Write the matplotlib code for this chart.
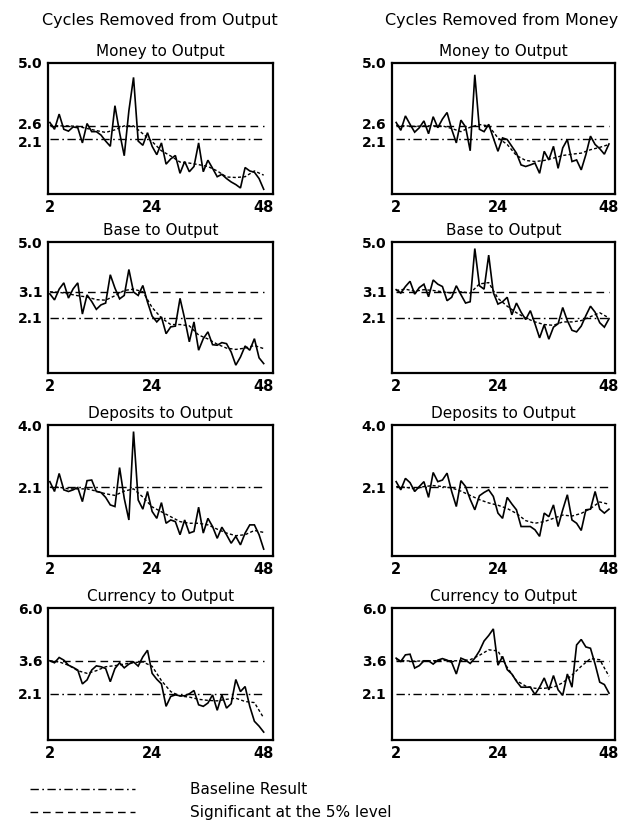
import numpy as np
import matplotlib
matplotlib.use("Agg")
import matplotlib.pyplot as plt
from matplotlib.lines import Line2D
from matplotlib.transforms import ScaledTranslation

# lag lengths on the x axis
lags = np.arange(2, 49)
lags_smooth = np.arange(2, 49, 2)

# --- cycles removed from output ---
out_money = [2.73, 2.47, 3.05, 2.47, 2.40, 2.56, 2.53, 1.95, 2.69, 2.38, 2.38, 2.25, 2.02, 1.82,
             3.37, 2.34, 1.46, 3.18, 4.45, 2.02, 1.86, 2.34, 1.82, 1.50, 1.95, 1.14, 1.34, 1.47,
             0.79, 1.24, 0.85, 1.05, 1.95, 0.85, 1.29, 0.98, 0.66, 0.75, 0.59, 0.46, 0.36, 0.23,
             1.01, 0.88, 0.83, 0.59, 0.18]
out_money_sm = [2.62, 2.60, 2.60, 2.58, 2.50, 2.42, 2.35, 2.45, 2.60, 2.60, 2.30, 2.00,
                1.65, 1.45, 1.22, 1.18, 1.12, 1.05, 0.88, 0.65, 0.63, 0.66, 0.88, 0.72]

out_base = [3.02, 2.79, 3.20, 3.44, 2.86, 3.21, 3.44, 2.25, 2.98, 2.73, 2.43, 2.60, 2.67, 3.75,
            3.24, 2.83, 2.96, 3.95, 3.09, 2.96, 3.34, 2.71, 2.17, 1.95, 2.14, 1.50, 1.76, 1.79,
            2.85, 2.07, 1.19, 1.95, 0.87, 1.31, 1.57, 1.08, 1.06, 1.16, 1.12, 0.80, 0.30, 0.61,
            1.03, 0.87, 1.31, 0.58, 0.36]
out_base_sm = [3.10, 3.08, 3.02, 2.95, 2.90, 2.80, 2.78, 2.95, 3.15, 3.20, 3.10, 2.50,
               2.10, 1.85, 1.85, 1.80, 1.45, 1.30, 1.10, 0.95, 0.90, 0.95, 1.05, 0.93]

out_dep = [2.27, 1.97, 2.52, 2.02, 1.97, 2.02, 2.09, 1.66, 2.30, 2.32, 1.97, 1.94, 1.79, 1.56,
           1.51, 2.70, 1.76, 1.10, 3.80, 1.71, 1.43, 1.97, 1.36, 1.15, 1.63, 1.00, 1.10, 1.05,
           0.65, 1.10, 0.70, 0.75, 1.49, 0.70, 1.15, 0.90, 0.54, 0.88, 0.65, 0.39, 0.60, 0.34,
           0.70, 0.95, 0.95, 0.65, 0.21]
out_dep_sm = [2.10, 2.10, 2.05, 2.05, 2.05, 1.98, 1.90, 1.85, 1.98, 2.05, 1.80, 1.50,
              1.35, 1.20, 1.05, 1.00, 1.00, 0.95, 0.82, 0.70, 0.62, 0.65, 0.78, 0.72]

out_cur = [3.60, 3.51, 3.75, 3.63, 3.40, 3.30, 3.18, 2.55, 2.73, 3.18, 3.37, 3.33, 3.25, 2.65,
           3.25, 3.51, 3.28, 3.45, 3.55, 3.36, 3.78, 4.08, 3.03, 2.76, 2.55, 1.53, 1.98, 2.05,
           2.01, 2.01, 2.10, 2.25, 1.60, 1.53, 1.68, 2.05, 1.35, 2.05, 1.45, 1.65, 2.75, 2.20,
           2.43, 1.53, 0.85, 0.63, 0.36]
out_cur_sm = [3.60, 3.55, 3.40, 3.15, 3.03, 3.15, 3.33, 3.38, 3.45, 3.52, 3.55, 3.35,
              2.70, 2.20, 2.00, 1.95, 1.85, 1.80, 1.78, 1.85, 1.90, 1.75, 1.70, 1.00]

# --- cycles removed from money ---
mon_money = [2.73, 2.43, 2.98, 2.66, 2.36, 2.53, 2.79, 2.30, 2.95, 2.53, 2.86, 3.11, 2.47, 1.95,
             2.82, 2.56, 1.65, 4.55, 2.47, 2.38, 2.66, 2.14, 1.63, 2.14, 2.08, 1.82, 1.56, 1.11,
             1.05, 1.11, 1.18, 0.79, 1.63, 1.30, 1.82, 0.98, 1.76, 2.08, 1.24, 1.30, 0.92, 1.50,
             2.21, 1.89, 1.73, 1.52, 1.91]
mon_money_sm = [2.62, 2.60, 2.58, 2.60, 2.60, 2.60, 2.50, 2.38, 2.55, 2.65, 2.60, 2.14,
                1.89, 1.47, 1.28, 1.24, 1.28, 1.37, 1.47, 1.52, 1.56, 1.69, 1.78, 1.89]

mon_base = [3.18, 3.05, 3.30, 3.50, 3.01, 3.26, 3.39, 2.91, 3.55, 3.39, 3.30, 2.76, 2.89, 3.33,
            2.99, 2.67, 2.72, 4.75, 3.33, 3.20, 4.50, 3.07, 2.63, 2.72, 2.89, 2.22, 2.67, 2.32,
            2.04, 2.38, 1.88, 1.34, 1.84, 1.29, 1.75, 1.88, 2.50, 2.00, 1.63, 1.57, 1.79, 2.19,
            2.55, 2.32, 1.92, 1.75, 2.07]
mon_base_sm = [3.15, 3.20, 3.12, 3.18, 3.15, 3.10, 3.05, 3.10, 3.05, 3.40, 3.45, 2.85,
               2.55, 2.30, 2.10, 1.95, 1.85, 1.82, 1.95, 1.95, 2.00, 2.15, 2.30, 2.10]

mon_dep = [2.27, 2.02, 2.37, 2.24, 1.97, 2.12, 2.27, 1.79, 2.55, 2.27, 2.32, 2.53, 1.97, 1.51,
           2.30, 2.12, 1.73, 1.41, 1.84, 1.94, 2.02, 1.82, 1.31, 1.15, 1.79, 1.59, 1.41, 0.90,
           0.90, 0.90, 0.80, 0.60, 1.31, 1.20, 1.56, 0.90, 1.41, 1.87, 1.10, 1.00, 0.78, 1.41,
           1.43, 1.97, 1.43, 1.31, 1.43]
mon_dep_sm = [2.12, 2.10, 2.05, 2.12, 2.15, 2.12, 2.08, 1.98, 1.85, 1.72, 1.62, 1.55,
              1.45, 1.30, 1.08, 1.00, 1.05, 1.15, 1.25, 1.22, 1.30, 1.45, 1.65, 1.58]

mon_cur = [3.72, 3.57, 3.87, 3.90, 3.27, 3.38, 3.60, 3.60, 3.45, 3.63, 3.70, 3.63, 3.53, 3.00,
           3.72, 3.63, 3.48, 3.72, 4.05, 4.50, 4.75, 5.05, 3.40, 3.80, 3.20, 3.00, 2.67, 2.40,
           2.40, 2.40, 2.07, 2.40, 2.82, 2.28, 2.93, 2.28, 2.03, 3.00, 2.40, 4.32, 4.57, 4.23,
           4.17, 3.45, 2.63, 2.52, 2.13]
mon_cur_sm = [3.65, 3.60, 3.58, 3.60, 3.60, 3.62, 3.60, 3.60, 3.65, 3.85, 4.10, 4.05,
              3.30, 2.70, 2.45, 2.35, 2.35, 2.40, 2.60, 2.95, 3.35, 3.70, 3.65, 2.90]

col_titles = ["Cycles Removed from Output", "Cycles Removed from Money"]
row_titles = ["Money to Output", "Base to Output", "Deposits to Output", "Currency to Output"]
y_tops = [5.0, 5.0, 4.0, 6.0]
sig_levels = [2.6, 3.1, None, 3.6]
baseline = 2.1

series = [
    [(out_money, out_money_sm), (mon_money, mon_money_sm)],
    [(out_base, out_base_sm), (mon_base, mon_base_sm)],
    [(out_dep, out_dep_sm), (mon_dep, mon_dep_sm)],
    [(out_cur, out_cur_sm), (mon_cur, mon_cur_sm)],
]

W, H = 625, 833
fig = plt.figure(figsize=(W / 100, H / 100), dpi=100)

col_left = [48, 392]
col_width = [225, 223]
col_xlim = [(1.6, 50.0), (1.1, 49.3)]
row_box = [(63, 194), (242, 373), (425, 556), (608, 740)]

dash_sig = (0, (5.5, 3.5))
dash_base = (0, (6, 2.5, 1.2, 2.5))
dash_smooth = (0, (2.2, 1.6))

for c in range(2):
    for r in range(4):
        top, bot = row_box[r]
        ax = fig.add_axes([col_left[c] / W, 1 - bot / H, col_width[c] / W, (bot - top) / H])
        solid, smooth = series[r][c]
        ax.plot(lags, solid, color="black", lw=1.2, solid_joinstyle="miter")
        ax.plot(lags_smooth, smooth, color="black", lw=1.0, linestyle=dash_smooth)
        if sig_levels[r] is not None:
            ax.hlines(sig_levels[r], 2, 48, color="black", lw=1.0, linestyle=dash_sig)
        ax.hlines(baseline, 2, 48, color="black", lw=1.0, linestyle=dash_base)

        ax.set_xlim(*col_xlim[c])
        ax.set_ylim(0, y_tops[r])
        yt = [y_tops[r]] + ([sig_levels[r]] if sig_levels[r] is not None else []) + [baseline]
        ax.set_yticks(yt)
        ax.set_yticklabels([f"{v:.1f}" for v in yt], fontsize=10, fontweight="bold")
        ax.set_xticks([2, 24, 48])
        ax.set_xticklabels(["2", "24", "48"], fontsize=10.5, fontweight="bold")
        ax.tick_params(axis="both", length=0, pad=4)
        ax.set_xticks([24], minor=True)
        ax.tick_params(axis="x", which="minor", direction="in", length=6, width=1.3)
        for s in ax.spines.values():
            s.set_linewidth(1.6)
        ax.set_title(row_titles[r], fontsize=11, pad=5)

        # the 2.6 and 2.1 labels sit very close: nudge them apart a little
        if sig_levels[r] is not None and sig_levels[r] - baseline < 1.0:
            labels = ax.get_yticklabels()
            labels[1].set_transform(labels[1].get_transform() + ScaledTranslation(0, 2 / 72, fig.dpi_scale_trans))
            labels[2].set_transform(labels[2].get_transform() + ScaledTranslation(0, -2 / 72, fig.dpi_scale_trans))

fig.text(160 / W, 1 - 21 / H, col_titles[0], ha="center", va="center", fontsize=11.5)
fig.text(502 / W, 1 - 21 / H, col_titles[1], ha="center", va="center", fontsize=11.5)

# legend at the bottom
leg_rows = [(789, dash_base, "Baseline Result"), (812, dash_sig, "Significant at the 5% level")]
for y, ls, label in leg_rows:
    fig.add_artist(Line2D([30 / W, 135 / W], [1 - y / H, 1 - y / H], transform=fig.transFigure,
                          color="black", lw=1.0, linestyle=ls))
    fig.text(190 / W, 1 - y / H, label, ha="left", va="center", fontsize=11)

fig.savefig("out.png", dpi=100)
